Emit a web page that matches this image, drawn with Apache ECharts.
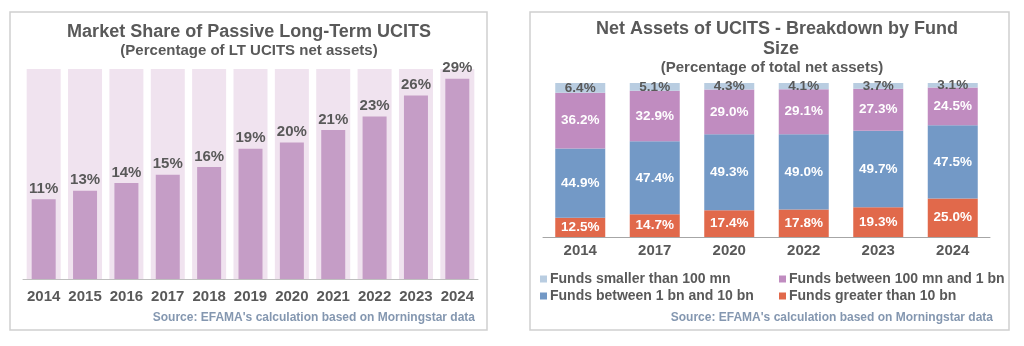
<!DOCTYPE html>
<html><head><meta charset="utf-8">
<script src="https://cdn.jsdelivr.net/npm/echarts@6/dist/echarts.min.js"></script>
<style>html,body{margin:0;padding:0;background:#fff;}#c{width:1024px;height:346px;}</style>
</head><body><div id="c"></div>
<script>
// ---- Left chart data ----
const passiveYears = ['2014','2015','2016','2017','2018','2019','2020','2021','2022','2023','2024'];
const passiveShare = [11.4, 12.6, 13.7, 14.9, 16.0, 18.6, 19.5, 21.3, 23.2, 26.2, 28.6];
const passiveAxisMax = 30;

// ---- Right chart data ----
const sizeYears = ['2014','2017','2020','2022','2023','2024'];
const seriesNames = ['Funds smaller than 100 mn','Funds between 100 mn and 1 bn','Funds between 1 bn and 10 bn','Funds greater than 10 bn'];
const fundsSmall = [6.4, 5.1, 4.3, 4.1, 3.7, 3.1];
const funds100mnTo1bn = [36.2, 32.9, 29.0, 29.1, 27.3, 24.5];
const funds1bnTo10bn = [44.9, 47.4, 49.3, 49.0, 49.7, 47.5];
const fundsOver10bn = [12.5, 14.7, 17.4, 17.8, 19.3, 25.0];

const FONT = '"Liberation Sans", Arial, sans-serif';
const GRAY = '#595959';
const SRC = '#8497B0';
const colors = {small:'#B9CDE1', mid:'#C08CC0', big:'#7399C6', huge:'#E1694B'};

const chart = echarts.init(document.getElementById('c'), null, {renderer:'canvas'});

const segLabel = (color) => ({show:true, position:'inside', color:color, fontFamily:FONT, fontWeight:'bold', fontSize:13.5,
  formatter: p => p.value.toFixed(1) + '%'});

const option = {
  animation:false,
  textStyle:{fontFamily:FONT},
  grid:[
    {left:23, width:455, top:69, height:210},
    {left:543, width:447, top:83, height:154}
  ],
  xAxis:[
    {gridIndex:0, type:'category', data:passiveYears,
     axisLine:{lineStyle:{color:'#BFBFBF'}}, axisTick:{inside:true, length:4, lineStyle:{color:'#BFBFBF'}},
     axisLabel:{interval:0, hideOverlap:false, color:GRAY, fontWeight:'bold', fontSize:15, margin:10, fontFamily:FONT}},
    {gridIndex:0, type:'category', data:passiveYears, show:false},
    {gridIndex:1, type:'category', data:sizeYears,
     axisLine:{lineStyle:{color:'#A6A6A6'}}, axisTick:{inside:true, length:5, lineStyle:{color:'#A6A6A6'}},
     axisLabel:{interval:0, color:GRAY, fontWeight:'bold', fontSize:15, margin:6, fontFamily:FONT}}
  ],
  yAxis:[
    {gridIndex:0, type:'value', min:0, max:passiveAxisMax, show:false, splitLine:{show:false}},
    {gridIndex:0, type:'value', min:0, max:passiveAxisMax, show:false, splitLine:{show:false}},
    {gridIndex:1, type:'value', min:0, max:100, show:false, splitLine:{show:false}}
  ],
  legend:[
    {left:535, top:267, orient:'vertical', itemGap:3, itemWidth:7, itemHeight:7, icon:'rect',
     data:[seriesNames[0], seriesNames[2]], selectedMode:false,
     textStyle:{color:GRAY, fontWeight:'bold', fontSize:14, lineHeight:14, fontFamily:FONT, padding:[0,0,0,-2]}},
    {left:774, top:267, orient:'vertical', itemGap:3, itemWidth:7, itemHeight:7, icon:'rect',
     data:[seriesNames[1], seriesNames[3]], selectedMode:false,
     textStyle:{color:GRAY, fontWeight:'bold', fontSize:14, lineHeight:14, fontFamily:FONT, padding:[0,0,0,-2]}}
  ],
  series:[
    {type:'bar', xAxisIndex:1, yAxisIndex:1, barWidth:34, silent:true,
     data: passiveYears.map(() => passiveAxisMax),
     itemStyle:{color:'#F0E3EF'}, z:1},
    {type:'bar', xAxisIndex:0, yAxisIndex:0, barWidth:24, data:passiveShare,
     itemStyle:{color:'#C59DC6'}, z:2,
     label:{show:true, position:'top', distance:3, color:GRAY, fontWeight:'bold', fontSize:15, fontFamily:FONT,
       formatter: p => Math.round(p.value) + '%'}},
    {name:seriesNames[3], type:'bar', xAxisIndex:2, yAxisIndex:2, stack:'s', barWidth:50, data:fundsOver10bn,
     itemStyle:{color:colors.huge}, label:segLabel('#fff')},
    {name:seriesNames[2], type:'bar', xAxisIndex:2, yAxisIndex:2, stack:'s', barWidth:50, data:funds1bnTo10bn,
     itemStyle:{color:colors.big}, label:segLabel('#fff')},
    {name:seriesNames[1], type:'bar', xAxisIndex:2, yAxisIndex:2, stack:'s', barWidth:50, data:funds100mnTo1bn,
     itemStyle:{color:colors.mid}, label:segLabel('#fff')},
    {name:seriesNames[0], type:'bar', xAxisIndex:2, yAxisIndex:2, stack:'s', barWidth:50, data:fundsSmall,
     itemStyle:{color:colors.small}, label:segLabel(GRAY)}
  ],
  graphic:[
    {type:'rect', shape:{x:10, y:12, width:477, height:318}, style:{fill:'none', stroke:'#D0D0D0', lineWidth:1.5}, silent:true},
    {type:'rect', shape:{x:530, y:12, width:479, height:318}, style:{fill:'none', stroke:'#D0D0D0', lineWidth:1.5}, silent:true},
    {type:'text', x:249, y:32, style:{text:'Market Share of Passive Long-Term UCITS', fill:GRAY, font:'bold 18px '+FONT, textAlign:'center', textVerticalAlign:'middle'}},
    {type:'text', x:249, y:51, style:{text:'(Percentage of LT UCITS net assets)', fill:GRAY, font:'bold 15px '+FONT, textAlign:'center', textVerticalAlign:'middle'}},
    {type:'text', x:475, y:318, style:{text:"Source: EFAMA's calculation based on Morningstar data", fill:SRC, font:'bold 12px '+FONT, textAlign:'right', textVerticalAlign:'middle'}},
    {type:'text', x:777, y:29, style:{text:'Net Assets of UCITS - Breakdown by Fund', fill:GRAY, font:'bold 18px '+FONT, textAlign:'center', textVerticalAlign:'middle'}},
    {type:'text', x:781, y:49, style:{text:'Size', fill:GRAY, font:'bold 18px '+FONT, textAlign:'center', textVerticalAlign:'middle'}},
    {type:'text', x:772, y:68, style:{text:'(Percentage of total net assets)', fill:GRAY, font:'bold 15px '+FONT, textAlign:'center', textVerticalAlign:'middle'}},
    {type:'text', x:993, y:318, style:{text:"Source: EFAMA's calculation based on Morningstar data", fill:SRC, font:'bold 12px '+FONT, textAlign:'right', textVerticalAlign:'middle'}}
  ]
};
chart.setOption(option);
</script>
</body></html>
